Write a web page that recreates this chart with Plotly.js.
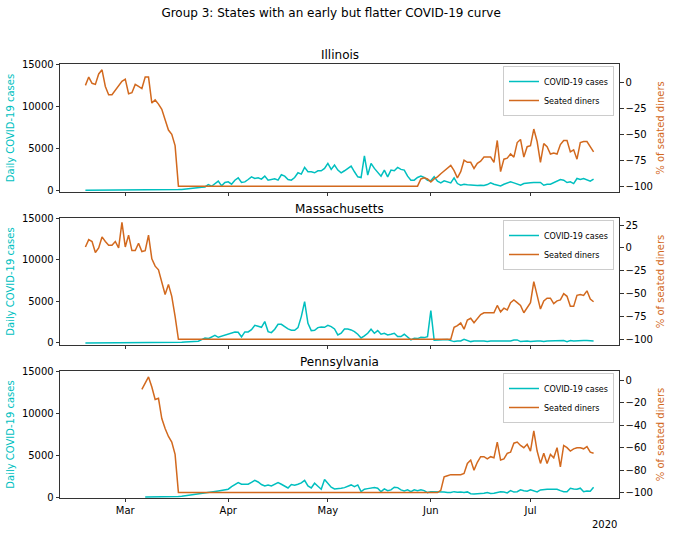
<!DOCTYPE html>
<html><head><meta charset="utf-8">
<script src="https://cdn.plot.ly/plotly-3.0.1.min.js"></script>
<style>html,body{margin:0;padding:0;background:#fff}#chart{width:673px;height:536px}</style>
</head><body><div id="chart"></div>
<script>
const suptitle = 'Group 3: States with an early but flatter COVID-19 curve';
const stateNames = ['Illinois', 'Massachusetts', 'Pennsylvania'];
const casesLabel = 'COVID-19 cases';
const dinersLabel = 'Seated diners';
const leftAxisTitle = 'Daily COVID-19 cases';
const rightAxisTitle = '% of seated diners';
const monthTicks = ['2020-03-01', '2020-04-01', '2020-05-01', '2020-06-01', '2020-07-01'];
const monthLabels = ['Mar', 'Apr', 'May', 'Jun', 'Jul'];
const yearLabel = '2020';

// start dates of each daily series
const ilStart = '2020-02-18';
const maStart = '2020-02-18';
const paCasesStart = '2020-03-07';
const paDinersStart = '2020-03-06';

const ilCases = [
  0,0,0,0,0,0,0,0,0,0,
  0,0,0,0,0,0,0,0,0,0,
  5,5,10,10,20,30,40,50,80,100,
  130,170,200,250,300,350,400,680,480,800,
  1080,520,920,1000,720,1200,1480,920,1000,1280,
  1600,1400,1480,1320,1680,1200,1280,1360,1200,1840,
  1680,1280,1200,1520,2080,1920,2720,2200,2200,2080,
  2320,2320,2600,3200,2480,3000,2400,2080,2320,2600,
  2880,2200,1600,1520,4080,1800,3200,2600,2200,1680,
  2400,1600,2400,2320,2720,2480,2400,1680,1200,1200,
  1520,1680,1520,1200,1120,1600,1080,880,1120,1000,
  880,1480,800,600,720,650,600,520,560,600,
  560,680,880,720,600,520,720,840,1000,880,
  760,600,800,880,880,920,920,920,600,720,
  720,880,1120,1280,1200,920,1000,800,1400,1280,
  1400,1280,1080,1320
];
const ilDiners = [
  -3,5,-1,-2,8,12,-4,-12,-12,-8,
  -4,1,3,-11,-10,-2,-4,-6,5,5,
  -20,-17,-21,-26,-36,-46,-50,-61,
  -100,-100,-100,-100,-100,-100,-100,-100,-100,-100,
  -100,-100,-100,-100,-100,-100,-100,-100,-100,-100,
  -100,-100,-100,-100,-100,-100,-100,-100,-100,-100,
  -100,-100,-100,-100,-100,-100,-100,-100,-100,-100,
  -100,-100,-100,-100,-100,-100,-100,-100,-100,-100,
  -100,-100,-100,-100,-100,-100,-100,-100,-100,-100,
  -100,-100,-100,-100,-100,-100,-100,-100,-100,-100,
  -100,-100,-100,
  -93,-92,-93,-96,-93,-91,-88,-85,-82,-80,
  -85,-92,-86,-75,-77,-77,-83,-78,-76,-72,
  -72,-72,-77,-56,-86,-74,-73,-69,-72,-58,
  -55,-72,-62,-61,-45,-57,-77,-59,-62,-69,
  -68,-69,-60,-56,-56,-67,-65,-74,-58,-57,
  -57,-62,-67
];
const maCases = [
  0,0,0,0,0,0,0,0,0,0,
  0,0,0,0,0,0,0,0,0,0,
  0,0,0,5,10,20,30,40,60,80,
  100,120,150,150,200,400,600,520,700,920,
  680,800,880,1000,1120,1320,1280,720,1320,1320,
  1600,2120,2000,1880,2560,1360,1240,1640,2240,2240,
  1960,1680,1520,1520,1840,3160,4960,2360,1480,1520,
  1840,1920,1880,2120,1960,1680,960,1160,1680,1680,
  1560,1360,1040,600,840,1160,1640,1160,1480,1040,
  1160,960,1040,1160,760,760,1040,640,360,560,
  520,680,640,760,3880,340,360,440,400,400,
  280,160,240,240,440,280,160,240,280,240,
  240,160,240,240,160,240,240,240,240,360,
  360,160,240,240,160,240,240,240,160,240,
  240,280,280,240,280,160,280,240,280,240,
  280,300,280,240
];
const maDiners = [
  1,9,7,-5,0,12,7,3,3,7,
  0,28,1,14,-3,-3,5,-4,-3,14,
  -12,-20,-24,-39,-51,-40,-53,-75,
  -100,-100,-100,-100,-100,-100,-100,-100,-100,-100,
  -100,-100,-100,-100,-100,-100,-100,-100,-100,-100,
  -100,-100,-100,-100,-100,-100,-100,-100,-100,-100,
  -100,-100,-100,-100,-100,-100,-100,-100,-100,-100,
  -100,-100,-100,-100,-100,-100,-100,-100,-100,-100,
  -100,-100,-100,-100,-100,-100,-100,-100,-100,-100,
  -100,-100,-100,-100,-100,-100,-100,-100,-100,-100,
  -100,-100,-100,-100,-100,-100,-100,-100,-100,-100,
  -100,-100,-100,
  -87,-85,-82,-89,-79,-77,-82,-77,-73,-71,
  -71,-71,-71,-63,-70,-66,-68,-60,-57,-60,
  -63,-71,-66,-60,-37,-51,-67,-58,-55,-55,
  -61,-58,-57,-50,-53,-64,-64,-52,-51,-52,
  -47,-56,-59
];
const paCases = [
  0,0,2,5,10,15,25,30,40,60,80,100,
  150,200,300,350,400,450,500,560,
  620,680,740,800,870,940,1250,1500,1720,1530,
  1530,1530,1750,2000,1800,1500,1330,1450,1330,1500,
  1720,1530,1300,1090,1490,1410,1530,1700,2000,1330,
  1090,1650,1300,940,2100,1600,1180,975,975,1060,
  1130,1250,1450,1250,1450,650,940,1010,1060,1130,
  1060,650,975,770,860,1180,1130,860,740,860,
  650,860,770,860,770,540,650,650,650,650,
  620,540,540,650,580,620,560,620,400,380,
  400,400,450,535,420,460,600,650,600,500,
  770,600,650,860,770,700,860,740,620,860,
  940,940,940,940,940,770,650,650,1060,975,
  940,1060,650,740,700,1180
];
const paDiners = [
  -8,-2,3,-6,-17,-16,-34,-43,-50,-55,-66,
  -100,-100,-100,-100,-100,-100,-100,-100,-100,-100,
  -100,-100,-100,-100,-100,-100,-100,-100,-100,-100,
  -100,-100,-100,-100,-100,-100,-100,-100,-100,-100,
  -100,-100,-100,-100,-100,-100,-100,-100,-100,-100,
  -100,-100,-100,-100,-100,-100,-100,-100,-100,-100,
  -100,-100,-100,-100,-100,-100,-100,-100,-100,-100,
  -100,-100,-100,-100,-100,-100,-100,-100,-100,-100,
  -100,-100,-100,-100,-100,-100,-100,-100,-100,-98,
  -86,-85,-84,-84,-84,-84,-83,-74,-71,-80,
  -73,-68,-68,-70,-68,-69,-55,-71,-70,-65,
  -64,-56,-55,-58,-60,-57,-63,-45,-63,-74,
  -65,-74,-66,-69,-60,-77,-58,-60,-63,-61,
  -60,-60,-61,-59,-64,-65
];

function dates(start, n) {
  const p = start.split('-').map(Number);
  const out = [];
  for (let i = 0; i < n; i++) {
    const d = new Date(Date.UTC(p[0], p[1] - 1, p[2] + i));
    out.push(d.toISOString().slice(0, 10));
  }
  return out;
}

const CYAN = '#00bfbf';
const ORANGE = '#d2691e';
const FONT = 'DejaVu Sans, Liberation Sans, sans-serif';

const series = [
  {cases: ilCases, cx: dates(ilStart, ilCases.length), diners: ilDiners, dx: dates(ilStart, ilDiners.length)},
  {cases: maCases, cx: dates(maStart, maCases.length), diners: maDiners, dx: dates(maStart, maDiners.length)},
  {cases: paCases, cx: dates(paCasesStart, paCases.length), diners: paDiners, dx: dates(paDinersStart, paDiners.length)}
];

// layout geometry (pixels)
const W = 673, H = 536, L = 60, R = 619, T = 64, B = 498;
const panelPx = [[64, 192], [218, 345], [371, 498]];
const ph = B - T;
const dom = panelPx.map(p => [(B - p[1]) / ph, (B - p[0]) / ph]);
const leftRanges = [[-204, 15000], [-248, 15000], [-105, 15000]];
const rightRanges = [[-105.6, 17.6], [-106.3, 32.7], [-104.8, 8.3]];
const rightDticks = [25, 25, 20];
const legendTopPx = [66, 220, 373];

const traces = [];
const layout = {
  width: W, height: H,
  margin: {l: L, r: W - R, t: T, b: H - B, pad: 0},
  paper_bgcolor: '#fff', plot_bgcolor: '#fff',
  font: {family: FONT, size: 10, color: '#000'},
  title: {text: suptitle, font: {size: 12, family: FONT, color: '#000'}, xref: 'paper', x: 0.485, xanchor: 'center', yref: 'container', y: 1 - 13 / H, yanchor: 'middle'},
  annotations: [],
  showlegend: true
};

for (let i = 0; i < 3; i++) {
  const xa = i === 0 ? 'x' : 'x' + (i + 1);
  const ya = i === 0 ? 'y' : 'y' + (i + 1);
  const yr = 'y' + (i + 4);
  const lg = i === 0 ? 'legend' : 'legend' + (i + 1);
  const s = series[i];
  traces.push({x: s.cx, y: s.cases, xaxis: xa, yaxis: ya, type: 'scatter', mode: 'lines',
    line: {color: CYAN, width: 1.5}, name: casesLabel, legend: lg});
  traces.push({x: s.dx, y: s.diners, xaxis: xa, yaxis: yr, type: 'scatter', mode: 'lines',
    line: {color: ORANGE, width: 1.5}, name: dinersLabel, legend: lg});

  const xKey = i === 0 ? 'xaxis' : 'xaxis' + (i + 1);
  const yKey = i === 0 ? 'yaxis' : 'yaxis' + (i + 1);
  const yrKey = 'yaxis' + (i + 4);
  layout[xKey] = {
    type: 'date', anchor: ya, domain: [0, 1],
    range: ['2020-02-10 08:24', '2020-07-27 15:36'],
    tickvals: monthTicks, ticktext: monthLabels,
    showticklabels: i === 2,
    ticks: 'outside', ticklen: 3.5, tickwidth: 0.8, tickcolor: '#000',
    showline: true, linecolor: '#000', linewidth: 0.8, mirror: true,
    showgrid: false, zeroline: false,
    tickfont: {size: 10, family: FONT, color: '#000'}
  };
  if (i > 0) layout[xKey].matches = 'x';
  layout[yKey] = {
    anchor: xa, domain: dom[i], range: leftRanges[i],
    tickmode: 'linear', tick0: 0, dtick: 5000, tickformat: 'd',
    ticks: 'outside', ticklen: 3.5, tickwidth: 0.8, tickcolor: '#000',
    showline: true, linecolor: '#000', linewidth: 0.8, mirror: true,
    showgrid: false, zeroline: false,
    tickfont: {size: 10, family: FONT, color: '#000'},
    title: {text: leftAxisTitle, font: {size: 10, family: FONT, color: CYAN}, standoff: 5}
  };
  layout[yrKey] = {
    anchor: xa, overlaying: ya, side: 'right', range: rightRanges[i],
    tickmode: 'linear', tick0: 0, dtick: rightDticks[i],
    ticks: 'outside', ticklen: 3.5, tickwidth: 0.8, tickcolor: '#000',
    showline: false, showgrid: false, zeroline: false,
    tickfont: {size: 10, family: FONT, color: '#000'},
    title: {text: rightAxisTitle, font: {size: 10, family: FONT, color: ORANGE}, standoff: 5}
  };
  layout[lg] = {
    x: (614 - L) / (R - L), xanchor: 'right', xref: 'paper',
    y: (B - legendTopPx[i]) / ph, yanchor: 'top', yref: 'paper',
    bgcolor: 'rgba(255,255,255,0.85)', bordercolor: '#cccccc', borderwidth: 1,
    font: {size: 8, family: FONT, color: '#000'},
    itemwidth: 30, tracegroupgap: 0
  };
  layout.annotations.push({
    text: stateNames[i], xref: 'paper', yref: 'paper', x: 0.5, y: dom[i][1],
    xanchor: 'center', yanchor: 'bottom', yshift: 0, showarrow: false,
    font: {size: 12, family: FONT, color: '#000'}
  });
}
layout.annotations.push({
  text: yearLabel, xref: 'paper', yref: 'paper', x: (604 - L) / (R - L), y: (B - 524) / ph,
  xanchor: 'center', yanchor: 'middle', showarrow: false,
  font: {size: 10, family: FONT, color: '#000'}
});

Plotly.newPlot('chart', traces, layout, {staticPlot: true, displayModeBar: false});
</script></body></html>
